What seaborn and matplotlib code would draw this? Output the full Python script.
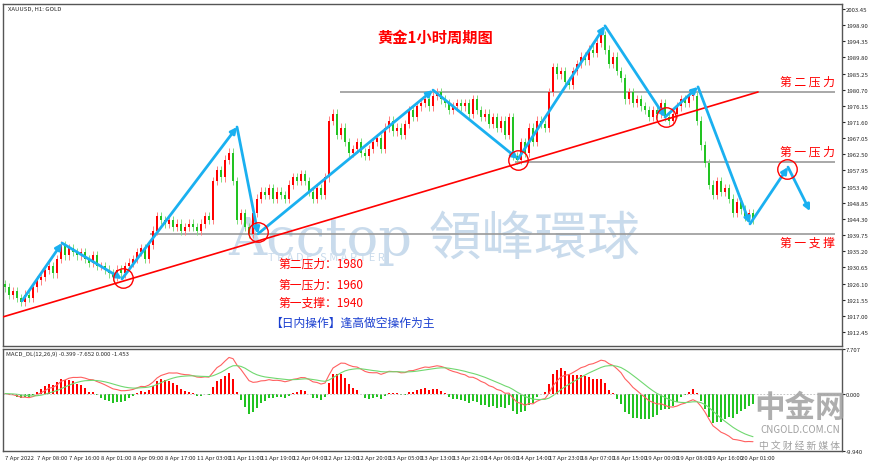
import numpy as np
import pandas as pd
import matplotlib
matplotlib.use("Agg")
import matplotlib.pyplot as plt
import seaborn as sns

closes = [1925,1923,1924,1922,1921,1923,1922,1925,
          1927,1928,1930,1931,1929,1933,1937,1934,
          1936,1935,1934,1935,1933,1932,1934,1931,
          1931,1930,1929,1928,1930,1929,1931,1932,
          1933,1935,1936,1933,1937,1941,1945,1944,
          1943,1944,1942,1943,1941,1942,1943,1942,
          1941,1943,1945,1944,1955,1958,1956,1961,
          1963,1955,1944,1946,1942,1940,1946,1950,
          1952,1951,1953,1950,1952,1951,1950,1954,
          1956,1955,1957,1955,1952,1950,1953,1951,
          1956,1972,1974,1968,1970,1966,1963,1964,
          1966,1963,1962,1964,1966,1967,1964,1970,
          1972,1969,1970,1968,1971,1975,1973,1976,
          1977,1978,1976,1979,1980,1978,1977,1975,
          1976,1977,1976,1977,1974,1978,1975,1973,
          1974,1971,1973,1970,1972,1968,1973,1962,
          1961,1966,1963,1970,1966,1972,1971,1970,
          1980,1987,1985,1986,1983,1982,1986,1988,
          1990,1989,1992,1991,1994,1996,1992,1988,
          1990,1986,1984,1978,1980,1977,1978,1976,
          1975,1973,1975,1974,1977,1973,1972,1974,
          1976,1978,1977,1979,1979,1972,1965,1960,
          1954,1951,1955,1952,1953,1950,1946,1949,
          1947,1945,1946,1944]
first_open = 1926
time_labels = ["7 Apr 2022","7 Apr 08:00","7 Apr 16:00","8 Apr 01:00","8 Apr 09:00","8 Apr 17:00",
               "11 Apr 03:00","11 Apr 11:00","11 Apr 19:00","12 Apr 04:00","12 Apr 12:00","12 Apr 20:00",
               "13 Apr 05:00","13 Apr 13:00","13 Apr 21:00","14 Apr 06:00","14 Apr 14:00","17 Apr 23:00",
               "18 Apr 07:00","18 Apr 15:00","19 Apr 00:00","19 Apr 08:00","19 Apr 16:00","20 Apr 01:00"]
price_ticks = [2003.45,1998.90,1994.35,1989.80,1985.25,1980.70,1976.15,1971.60,1967.05,1962.50,
               1957.95,1953.40,1948.85,1944.30,1939.75,1935.20,1930.65,1926.10,1921.55,1917.00,1912.45]

sns.set_style("white")
plt.rcParams['font.family'] = ['Noto Sans CJK SC', 'DejaVu Sans']

c = np.array(closes, float)
o = np.concatenate([[first_open], c[:-1]])
n = len(c)
idx = np.arange(n)
hi = np.maximum(o, c) + 1.2
lo = np.minimum(o, c) - 1.2

W = 870; H = 464
fig = plt.figure(figsize=(8.7, 4.64), dpi=100)
ax = fig.add_axes([3/W, 1-347/H, 839/W, 342/H])
ax2 = fig.add_axes([3/W, 1-452/H, 839/W, 102/H])
XR = (842-5)/4

up = c >= o
RED, GRN = "#ff0000", "#22c322"
cols = ["#ff0000" if u else "#22c322" for u in up]
wick_cols = ["#ff8080" if u else "#80dd80" for u in up]

ax.text(228/W, 1-238/H, "Acctop 領峰環球", transform=fig.transFigure, fontsize=38, color="#c9dbec",
        family=['DejaVu Serif', 'Noto Sans CJK TC'], va="center", zorder=0)
ax.text(268/W, 1-258/H, "T R A D E   S M A R T E R", transform=fig.transFigure, fontsize=8, color="#c9dbec", va="center", zorder=0)

ax.vlines(idx, lo, hi, colors=wick_cols, lw=0.7, zorder=2)
ax.bar(idx, np.maximum(np.abs(c-o), 0.3), bottom=np.minimum(o, c), width=0.65, color=cols, lw=0, zorder=3)

ax.set_xlim(-0.5, XR)
ax.set_ylim(1908.5, 2004.86)
ax2.set_xlim(-0.5, XR)

ax.plot([-0.5, 188.25], [1916.7, 1980.07], color="red", lw=1.2, zorder=4)
ax.hlines(1980.1, 83.75, 207.5, color="#999999", lw=1.2, zorder=1)
ax.hlines(1960.4, 127.5, 207.5, color="#999999", lw=1.2, zorder=1)
ax.hlines(1940.1, 36.25, 207.5, color="#999999", lw=1.2, zorder=1)

zz = [(4.25,1921.2),(14.25,1937.5),(29.25,1927.4),(58,1970.2),(63.25,1940.1),(107,1980.6),
      (128.25,1961.2),(150,1998.7),(165,1973.0),(173.25,1981.5),(186.25,1942.9),(195.75,1958.9),(201.25,1946.5)]
for a, b in zip(zz[:-1], zz[1:]):
    ax.annotate("", xy=b, xytext=a, arrowprops=dict(arrowstyle="-|>", color="#1ab0f0", lw=2,
                mutation_scale=9, shrinkA=0, shrinkB=0), zorder=5)
circ = [(29.5,1927.6),(63.25,1940.6),(128.25,1960.9),(165.25,1973.0),(195.5,1958.5)]
ax.plot([p[0] for p in circ], [p[1] for p in circ], "o", ms=14, mfc="none", mec="red", mew=1, zorder=6)

ax.yaxis.tick_right()
ax.set_yticks(price_ticks)
ax.set_yticklabels([f"{t:.2f}" for t in price_ticks], fontsize=4.3)
ax.set_xticks([])
ax.tick_params(axis="y", length=2, pad=1)

fig.text(435/W, 1-38/H, "黄金1小时周期图", color="red", fontsize=11, fontweight="bold", ha="center", va="center")
for yy, t in [(82, "第二压力"), (152, "第一压力"), (243, "第一支撑")]:
    fig.text(780/W, 1-yy/H, " ".join(t), color="red", fontsize=8.5, va="center")
for yy, t in [(264, "第二压力：1980"), (285, "第一压力：1960"), (303, "第一支撑：1940")]:
    fig.text(278/W, 1-yy/H, t, color="red", fontsize=8.5, va="center")
fig.text(270/W, 1-323/H, "【日内操作】逢高做空操作为主", color="#1a3fd0", fontsize=8.5, va="center")
fig.text(8/W, 1-9/H, "XAUUSD, H1: GOLD", fontsize=4.3, va="center")

s = pd.Series(c)
macd = s.ewm(span=12, adjust=False).mean() - s.ewm(span=26, adjust=False).mean()
sig = macd.ewm(span=9, adjust=False).mean()
hist = 2 * (macd - sig)
ax2.bar(idx, hist, width=0.65, color=["#ff0000" if h >= 0 else "#22c322" for h in hist], lw=0)
df = pd.DataFrame({"i": idx, "macd": macd, "sig": sig})
sns.lineplot(data=df, x="i", y="macd", ax=ax2, color="#ff6060", lw=0.8)
sns.lineplot(data=df, x="i", y="sig", ax=ax2, color="#70d870", lw=0.8)
ax2.axhline(0, color="#bbbbbb", lw=0.6, ls=(0, (2, 2)))
ax2.set_ylim(-9.94, 7.707)
ax2.yaxis.tick_right()
ax2.set_yticks([7.707, 0.0, -9.94])
ax2.set_yticklabels(["7.707", "0.000", "-9.940"], fontsize=4.3)
ax2.set_xticks(np.arange(len(time_labels)) * 8)
ax2.set_xticklabels(time_labels, fontsize=4.3, ha="left")
ax2.tick_params(length=2, pad=1)
ax2.set_xlabel(""); ax2.set_ylabel("")
fig.text(6/W, 1-354/H, "MACD_DL(12,26,9) -0.399 -7.652 0.000 -1.453", fontsize=4.3, va="center")
fig.text(800/W, 1-408/H, "中金网", fontsize=22, color="#a0a0a0", va="center", ha="center", fontweight="bold", alpha=0.85)
fig.text(800/W, 1-430/H, "CNGOLD.COM.CN", fontsize=7, color="#a0a0a0", va="center", ha="center")
fig.text(800/W, 1-446/H, "中 文 财 经 新 媒 体", fontsize=7, color="#a0a0a0", va="center", ha="center")
for a_ in (ax, ax2):
    for sp in a_.spines.values():
        sp.set_color("#555555"); sp.set_linewidth(1)
fig.savefig("out.png", dpi=100)
